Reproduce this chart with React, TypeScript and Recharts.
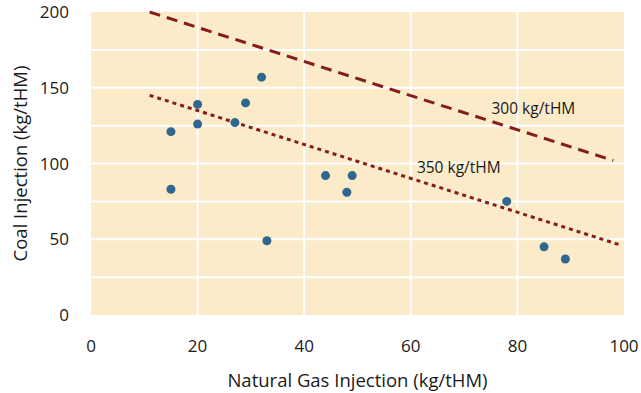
import React from 'react';
import {
  ComposedChart, Scatter, XAxis, YAxis, ReferenceLine, ReferenceDot, ReferenceArea,
} from 'recharts';

// Plant data: natural gas vs coal injection (kg/tHM)
const gasInjection = [15, 15, 20, 20, 27, 29, 32, 33, 44, 48, 49, 78, 85, 89];
const coalInjection = [121, 83, 139, 126, 127, 140, 157, 49, 92, 81, 92, 75, 45, 37];

// Constant total-reductant lines
const line300 = [{ x: 11, y: 200 }, { x: 98, y: 102 }];
const line350 = [{ x: 11, y: 145 }, { x: 99.5, y: 46 }];
const lineLabels = [
  { x: 83, y: 136, text: '300 kg/tHM' },
  { x: 69, y: 97.5, text: '350 kg/tHM' },
];

const xTicks = [0, 20, 40, 60, 80, 100];
const yTicks = [0, 50, 100, 150, 200];
const xGrid = [20, 40, 60, 80];
const yGrid = [25, 50, 75, 100, 125, 150, 175];

const points = gasInjection.map((g, i) => ({ gas: g, coal: coalInjection[i] }));

const FONT = '"Open Sans", sans-serif';
const RED = '#861c1c';
const INK = '#1a1a1a';

export default function App() {
  return (
    <div style={{ position: 'absolute', left: 0, top: 0, width: 641, height: 393, background: '#fff' }}>
      <ComposedChart width={641} height={393} data={points} margin={{ top: 12, right: 17, bottom: 0, left: 0 }}>
        <ReferenceArea x1={0} x2={100} y1={0} y2={200} fill="#fbebc8" fillOpacity={1} stroke="none" />
        {xGrid.map((v) => <ReferenceLine key={'x' + v} x={v} stroke="#fff" strokeWidth={2} />)}
        {yGrid.map((v) => <ReferenceLine key={'y' + v} y={v} stroke="#fff" strokeWidth={2} />)}
        <XAxis
          type="number" dataKey="gas" domain={[0, 100]} ticks={xTicks} height={78}
          axisLine={false} tickLine={false} tickSize={0} tickMargin={25}
          tick={{ fill: INK, fontSize: 17, fontFamily: FONT }}
          label={{ value: 'Natural Gas Injection (kg/tHM)', position: 'insideBottom', offset: 6, fill: INK, fontSize: 18.5, fontFamily: FONT }}
        />
        <YAxis
          type="number" dataKey="coal" domain={[0, 200]} ticks={yTicks} width={91} interval={0}
          axisLine={false} tickLine={false} tickSize={0} tickMargin={22}
          tick={{ fill: INK, fontSize: 17, fontFamily: FONT }}
          label={{ value: 'Coal Injection (kg/tHM)', angle: -90, position: 'center', dx: -25, fill: INK, fontSize: 18.5, fontFamily: FONT }}
        />
        <ReferenceLine segment={line300} stroke={RED} strokeWidth={3} strokeDasharray="11 7" ifOverflow="visible" />
        <ReferenceLine segment={line350} stroke={RED} strokeWidth={3} strokeDasharray="4 4" ifOverflow="visible" />
        {lineLabels.map((l) => (
          <ReferenceDot key={l.text} x={l.x} y={l.y} r={0} stroke="none" fill="none"
            label={{ value: l.text, position: 'center', fill: INK, fontSize: 15.5, fontFamily: FONT }} />
        ))}
        <Scatter dataKey="coal" fill="#2f6791" isAnimationActive={false}
          shape={(p: any) => <circle cx={p.cx} cy={p.cy} r={4.5} fill="#2f6791" />} />
      </ComposedChart>
    </div>
  );
}
